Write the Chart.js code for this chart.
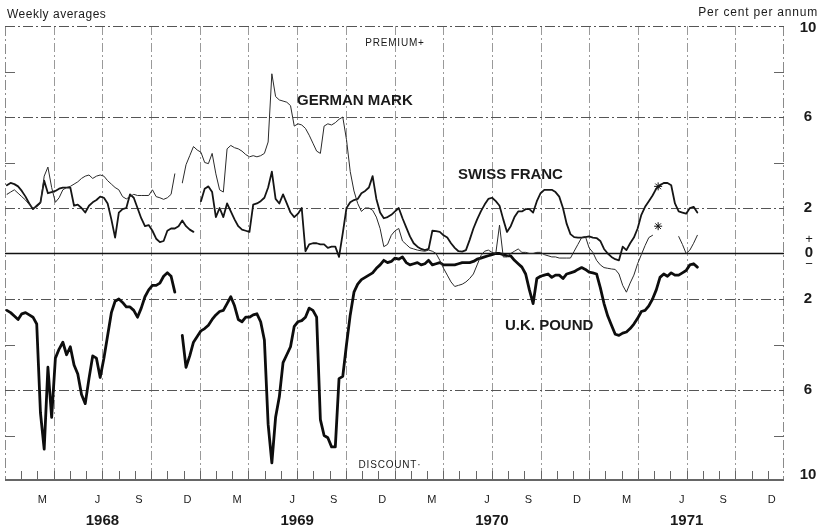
<!DOCTYPE html>
<html>
<head>
<meta charset="utf-8">
<script src="https://cdn.jsdelivr.net/npm/chart.js@4/dist/chart.umd.min.js"></script>
<style>
html, body { margin: 0; padding: 0; background: #fff; }
#wrap { position: relative; width: 820px; height: 527px; }
</style>
</head>
<body>
<div id="wrap"><canvas id="grafico"></canvas></div>
<script>
// weekly averages, per cent per annum (premium +, discount -)
// index 0 = first week of January 1968
var ukPound = [
    -2.5, -2.6, -2.75, -2.9, -2.65, -2.6, -2.7, -2.8, -3.1, -7.0,
    -8.6, -5.0, -7.2, -4.6, -4.2, -3.9, -4.45, -4.1, -4.9, -5.3,
    -6.2, -6.6, -5.5, -4.5, -4.6, -5.45, -4.6, -3.6, -2.6, -2.1,
    -2.0, -2.15, -2.35, -2.35, -2.5, -2.8, -2.4, -1.9, -1.6, -1.4,
    -1.4, -1.3, -1.0, -0.85, -1.0, -1.7, null, -3.6, -5.0, -4.5,
    -3.9, -3.65, -3.4, -3.3, -3.15, -2.9, -2.7, -2.55, -2.5, -2.2,
    -1.9, -2.3, -2.9, -3.0, -2.8, -2.8, -2.7, -2.65, -3.0, -3.8,
    -7.5, -9.2, -7.2, -6.3, -4.8, -4.45, -4.1, -3.2, -3.0, -2.95,
    -2.8, -2.4, -2.5, -2.8, -7.3, -8.0, -8.1, -8.5, -8.5, -5.5,
    -5.4, -4.0, -2.7, -1.7, -1.35, -1.15, -1.05, -0.95, -0.85, -0.65,
    -0.5, -0.3, -0.4, -0.35, -0.2, -0.25, -0.15, -0.4, -0.5, -0.45,
    -0.4, -0.5, -0.45, -0.3, -0.5, -0.45, -0.4, -0.5, -0.5, -0.5,
    -0.5, -0.45, -0.4, -0.4, -0.4, -0.35, -0.25, -0.2, -0.15, -0.1,
    -0.05, 0, 0, -0.05, -0.1, -0.1, -0.3, -0.45, -0.6, -0.9,
    -1.6, -2.2, -1.1, -1.0, -0.95, -0.9, -1.05, -0.95, -0.95, -1.1,
    -0.9, -0.85, -0.8, -0.7, -0.62, -0.7, -0.82, -0.85, -0.9, -1.5,
    -2.2, -2.75, -3.15, -3.55, -3.6, -3.5, -3.45, -3.3, -3.1, -2.85,
    -2.55, -2.5, -2.3, -2.0, -1.6, -1.05, -0.9, -1.0, -0.85, -0.95,
    -0.95, -0.85, -0.75, -0.5, -0.45, -0.6
];

var swissFranc = [
    3.0, 3.1, 3.05, 2.95, 2.75, 2.5, 2.2, 1.95, 2.1, 2.25,
    3.2, 2.65, 2.7, 2.75, 2.85, 2.9, 2.9, 2.9, 2.1, 2.15,
    2.0, 1.8, 2.1, 2.25, 2.35, 2.5, 2.45, 2.2, 1.5, 0.7,
    1.8, 1.95, 2.0, 2.6, 2.45, 2.0, 1.55, 1.2, 1.25, 1.0,
    0.65, 0.5, 0.55, 1.0, 1.1, 1.1, 1.2, 1.45, 1.2, 1.05,
    0.95, null, 2.3, 2.85, 2.95, 2.7, 1.6, 2.0, 1.6, 2.2,
    1.85, 1.5, 1.2, 1.05, 1.0, 0.95, 2.15, 2.2, 2.3, 2.45,
    2.9, 3.6, 2.4, 2.2, 2.6, 2.2, 1.8, 1.6, 1.75, 2.0,
    0.1, 0.4, 0.45, 0.45, 0.4, 0.4, 0.25, 0.3, 0.3, -0.15,
    0.9, 2.0, 2.25, 2.35, 2.4, 2.65, 2.75, 2.9, 3.4, 2.4,
    1.8, 1.55, 1.6, 1.7, 1.85, 2.0, 1.55, 1.15, 0.75, 0.45,
    0.3, 0.2, 0.15, 0.2, 1.0, 0.98, 0.95, 0.8, 0.7, 0.45,
    0.25, 0.1, 0.08, 0.15, 0.6, 1.1, 1.5, 1.85, 2.15, 2.4,
    2.45, 2.3, 2.1, 1.5, 0.95, 1.2, 1.6, 1.85, 1.85, 1.95,
    1.95, 1.8, 2.3, 2.65, 2.8, 2.8, 2.8, 2.7, 2.5, 2.0,
    1.3, 0.85, 0.72, 0.7, 0.7, 0.72, 0.75, 0.7, 0.68, 0.55,
    0.2, 0.0, -0.15, -0.25, -0.3, 0.3, 0.15, 0.45, 0.7, 1.1,
    1.7, 2.05, 2.3, 2.55, 2.85, 3.0, 3.1, 3.1, 3.0, 2.2,
    1.85, 1.8, 1.75, 2.0, 2.05, 1.8
];

var germanMark = [
    2.6, 2.7, 2.8, 2.65, 2.5, 2.35, 2.15, 2.0, 2.05, 2.2,
    3.4, 3.8, 2.9, 2.25, 2.45, 2.8, 2.9, 2.95, 3.05, 3.15,
    3.3, 3.4, 3.45, 3.3, 3.4, 3.45, 3.4, 3.2, 3.05, 2.9,
    2.8, 2.5, 2.4, 2.5, 2.6, 2.55, 2.55, 2.55, 2.55, 2.8,
    2.5, 2.45, 2.38, 2.45, 2.6, 3.5, null, 3.1, 3.9, 4.3,
    4.7, 4.55, 4.45, 4.0, 3.95, 4.4, 3.5, 2.8, 2.7, 4.6,
    4.75, 4.65, 4.6, 4.5, 4.35, 4.25, 4.3, 4.25, 4.3, 4.4,
    4.9, 7.9, 6.9, 6.75, 6.7, 6.65, 6.5, 5.6, 5.7, 5.65,
    5.5, 5.2, 4.85, 4.5, 4.4, 5.6, 5.7, 5.65, 5.75, 5.9,
    6.0, 5.0, 3.6, 2.75, 2.2, 1.85, 2.0, 2.0, 1.9, 1.6,
    1.1, 0.3, 0.4, 0.8, 1.0, 1.1, 0.55, 0.4, 0.25, 0.2,
    0.15, 0.12, 0.1, 0.15, 0.1, 0.0, -0.3, -0.65, -0.95, -1.25,
    -1.45, -1.4, -1.35, -1.25, -1.1, -0.9, -0.5, -0.1, 0.1, 0.15,
    0.05, 0.0, 1.25, -0.15, -0.15, 0.0, 0.1, 0.2, 0.05, 0.05,
    0.0, 0.0, 0.05, 0.05, -0.05, -0.1, -0.15, -0.15, -0.2, -0.2,
    -0.2, -0.2, 0.1, 0.4, 0.7, 0.75, 0.25, 0.05, -0.3, -0.5,
    -0.62, -0.65, -0.68, -0.7, -0.9, -1.4, -1.7, -1.3, -0.95, -0.45,
    -0.05, 0.35, 0.7, 0.8, null, null, null, null, null, null,
    0.75, 0.4, 0.0, 0.15, 0.45, 0.8
];

// the two starred weeks (mid-May 1971)
var starWeeks = [174.5, 174.5];
var starValues = [2.95, 1.2];

var monthLetters = ['M', 'J', 'S', 'D'];
var years = ['1968', '1969', '1970', '1971'];
var yTickValues = [10, 6, 2, 0, -2, -6, -10];

function WeekToMonth(w) {
    return (w + 0.5) * 12 / 52.18;
}

function BuildPoints(values) {
    return values.map(function (v, i) {
        return { x: WeekToMonth(i), y: v };
    });
}

function Line(ctx, x1, y1, x2, y2) {
    ctx.beginPath();
    ctx.moveTo(x1, y1);
    ctx.lineTo(x2, y2);
    ctx.stroke();
}

var frame = {
    id: 'frame',
    beforeDatasetsDraw: function (chart) {
        var ctx = chart.ctx, a = chart.chartArea;
        var sx = chart.scales.x, sy = chart.scales.y;
        ctx.save();

        // quarter lines
        ctx.strokeStyle = '#9a9a9a';
        ctx.lineWidth = 1;
        ctx.setLineDash([9, 3, 2, 3]);
        for (var m = 3; m < 48; m += 3) {
            var px = Math.round(sx.getPixelForValue(m)) + 0.5;
            Line(ctx, px, a.top, px, a.bottom);
        }

        // borders left / right / top
        ctx.strokeStyle = '#8a8a8a';
        ctx.setLineDash([10, 3, 2, 3]);
        Line(ctx, a.left + 0.5, a.top, a.left + 0.5, a.bottom);
        Line(ctx, a.right - 0.5, a.top, a.right - 0.5, a.bottom);
        ctx.strokeStyle = '#555';
        Line(ctx, a.left, a.top + 0.5, a.right, a.top + 0.5);

        // horizontal lines at 6 and 2
        ctx.strokeStyle = '#555';
        ctx.setLineDash([10, 3, 2, 3]);
        [6, 2, -2, -6].forEach(function (v) {
            var py = Math.round(sy.getPixelForValue(v)) + 0.5;
            Line(ctx, a.left, py, a.right, py);
        });

        // short side ticks at 8 and 4
        ctx.setLineDash([]);
        ctx.strokeStyle = '#666';
        [8, 4, -4, -8].forEach(function (v) {
            var py = Math.round(sy.getPixelForValue(v)) + 0.5;
            Line(ctx, a.left, py, a.left + 10, py);
            Line(ctx, a.right - 10, py, a.right, py);
        });

        // zero line
        ctx.strokeStyle = '#111';
        ctx.lineWidth = 1.5;
        var y0 = sy.getPixelForValue(0);
        Line(ctx, a.left, y0, a.right, y0);

        // bottom axis and month ticks
        ctx.strokeStyle = '#666';
        ctx.lineWidth = 2;
        Line(ctx, a.left, a.bottom - 1, a.right, a.bottom - 1);
        ctx.lineWidth = 1;
        for (var k = 1; k < 48; k++) {
            var tx = Math.round(sx.getPixelForValue(k)) + 0.5;
            Line(ctx, tx, a.bottom, tx, a.bottom - 10);
        }
        ctx.restore();
    },
    afterDatasetsDraw: function (chart) {
        var ctx = chart.ctx, a = chart.chartArea;
        var sx = chart.scales.x, sy = chart.scales.y;
        ctx.save();
        ctx.fillStyle = '#1a1a1a';
        ctx.textBaseline = 'middle';

        // month letters and years
        var letterPos = [2.3, 5.7, 8.25, 11.25];
        ctx.font = '11px "Liberation Sans", Arial, sans-serif';
        ctx.textAlign = 'center';
        for (var yr = 0; yr < 4; yr++) {
            for (var q = 0; q < 4; q++) {
                ctx.fillText(monthLetters[q], sx.getPixelForValue(yr * 12 + letterPos[q]), 500);
            }
        }
        ctx.font = 'bold 15px "Liberation Sans", Arial, sans-serif';
        years.forEach(function (t, i) {
            ctx.fillText(t, sx.getPixelForValue(i * 12 + 6), 521);
        });

        // right-hand scale
        yTickValues.forEach(function (v) {
            var py = Math.min(Math.max(sy.getPixelForValue(v), a.top + 2), a.bottom - 6);
            if (v === 0) {
                ctx.font = 'bold 15px "Liberation Sans", Arial, sans-serif';
                ctx.fillText('0', 809, py - 1);
                ctx.font = '13px "Liberation Sans", Arial, sans-serif';
                ctx.fillText('+', 809, py - 14);
                ctx.fillText('\u2212', 809, py + 11);
            } else {
                ctx.font = 'bold 15px "Liberation Sans", Arial, sans-serif';
                ctx.fillText(String(Math.abs(v)), 808, py);
            }
        });

        // header texts
        ctx.font = '12px "Liberation Sans", Arial, sans-serif';
        ctx.letterSpacing = '0.5px';
        ctx.textAlign = 'left';
        ctx.fillText('Weekly averages', 7, 15);
        ctx.letterSpacing = '0.8px';
        ctx.textAlign = 'right';
        ctx.fillText('Per cent per annum', 818, 13);

        ctx.font = '10px "Liberation Sans", Arial, sans-serif';
        ctx.letterSpacing = '0.8px';
        ctx.textAlign = 'center';
        ctx.fillText('PREMIUM+', sx.getPixelForValue(24.03), sy.getPixelForValue(9.25));
        ctx.fillText('DISCOUNT\u00b7', sx.getPixelForValue(23.72), sy.getPixelForValue(-9.3));

        // series names
        ctx.font = 'bold 15px "Liberation Sans", Arial, sans-serif';
        ctx.letterSpacing = '0px';
        ctx.textAlign = 'left';
        ctx.fillText('GERMAN MARK', sx.getPixelForValue(17.99), sy.getPixelForValue(6.7));
        ctx.fillText('SWISS FRANC', sx.getPixelForValue(27.91), sy.getPixelForValue(3.45));
        ctx.fillText('U.K. POUND', sx.getPixelForValue(30.81), sy.getPixelForValue(-3.19));
        ctx.restore();
    }
};

var ctx = document.getElementById('grafico').getContext('2d');
var grafico = new Chart(ctx, {
    type: 'line',
    data: {
        datasets: [{
            label: 'German mark',
            data: BuildPoints(germanMark),
            borderColor: '#2a2a2a',
            borderWidth: 1,
            pointRadius: 0
        }, {
            label: 'Swiss franc',
            data: BuildPoints(swissFranc),
            borderColor: '#151515',
            borderWidth: 1.8,
            pointRadius: 0
        }, {
            label: 'U.K. pound',
            data: BuildPoints(ukPound),
            borderColor: '#0d0d0d',
            borderWidth: 2.8,
            pointRadius: 0
        }, {
            label: 'starred',
            data: starWeeks.map(function (w, i) { return { x: WeekToMonth(w), y: starValues[i] }; }),
            showLine: false,
            pointStyle: 'star',
            pointRadius: 4,
            borderColor: '#111',
            borderWidth: 1
        }]
    },
    options: {
        responsive: true,
        maintainAspectRatio: false,
        animation: false,
        spanGaps: false,
        layout: { padding: { left: 5, right: 36, top: 26, bottom: 46 } },
        elements: { line: { tension: 0, borderJoinStyle: 'round', borderCapStyle: 'round' } },
        plugins: { legend: { display: false }, tooltip: { enabled: false } },
        scales: {
            x: { type: 'linear', min: 0, max: 48, display: false },
            y: { min: -10, max: 10, display: false }
        }
    },
    plugins: [frame]
});
</script>
</body>
</html>
